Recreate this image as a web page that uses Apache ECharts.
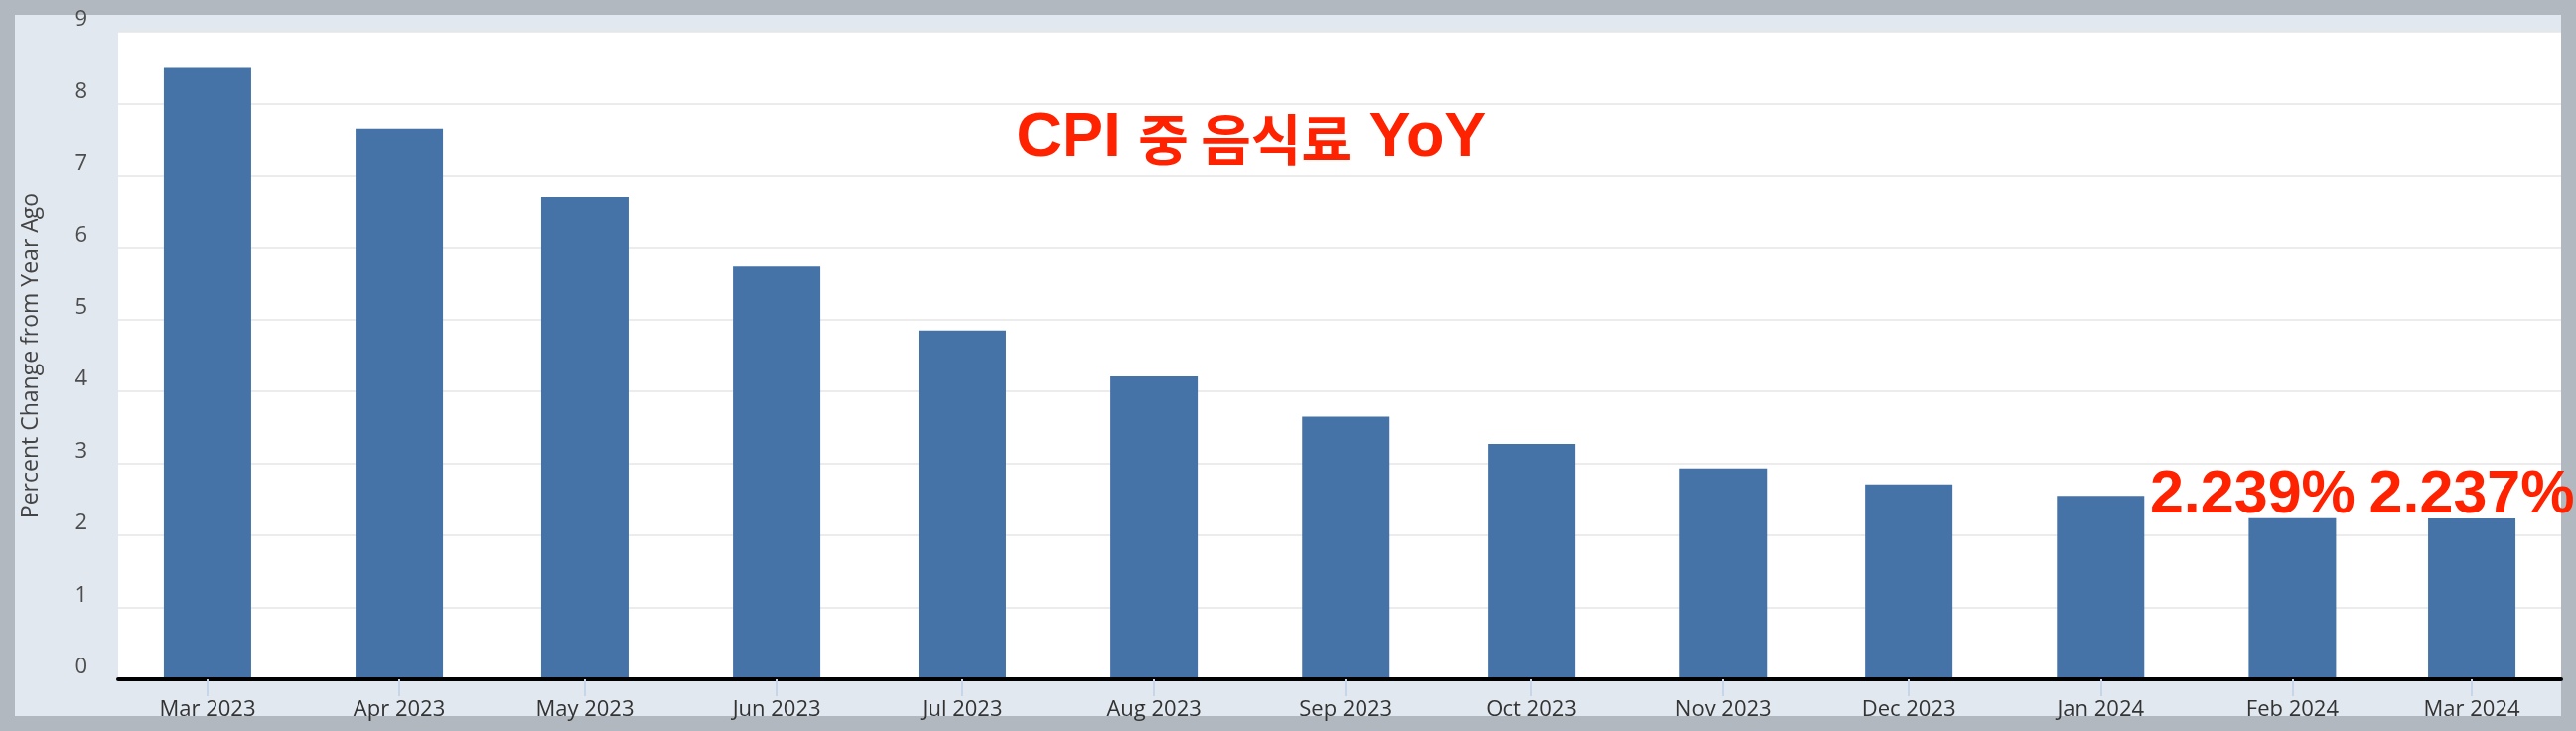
<!DOCTYPE html>
<html>
<head>
<meta charset="utf-8">
<script src="https://cdn.jsdelivr.net/npm/echarts@6/dist/echarts.min.js"></script>
<style>
  html, body { margin: 0; padding: 0; background: #b1b8bf; width: 2594px; height: 736px; overflow: hidden; }
  #panel { position: absolute; left: 15px; top: 15px; width: 2564px; height: 706px; background: #e1e8f0; }
  #c { position: absolute; left: 0; top: 0; width: 2594px; height: 736px; }
</style>
</head>
<body>
<div id="panel"></div>
<div id="c"></div>
<script>
// ---- data ----
const months = ['2023-03-01','2023-04-01','2023-05-01','2023-06-01','2023-07-01','2023-08-01','2023-09-01',
                '2023-10-01','2023-11-01','2023-12-01','2024-01-01','2024-02-01','2024-03-01'];
const foodCpiYoY = [8.51, 7.65, 6.71, 5.74, 4.85, 4.21, 3.65, 3.27, 2.93, 2.71, 2.55, 2.239, 2.237];
const annotationLabels = ['', '', '', '', '', '', '', '', '', '', '', '2.239%', '2.237%'];
const monthAbbr = ['Jan','Feb','Mar','Apr','May','Jun','Jul','Aug','Sep','Oct','Nov','Dec'];
const chartTitleParts = ['CPI ', '중 음식료', ' YoY'];
const yAxisTitle = 'Percent Change from Year Ago';
const yMin = 0, yMax = 9, yStep = 1;
// ECharts widens a time axis holding bars by half a bar on each side; these bounds account for that
const xMin = '2023-02-21 15:00:00', xMax = '2024-03-08 09:00:00';

const chart = echarts.init(document.getElementById('c'), null, { renderer: 'canvas' });

const seriesData = months.map((m, i) => {
  const item = { value: [m, foodCpiYoY[i]] };
  if (i === 11) item.label = { offset: [-40, 8] };
  if (i === 12) item.label = { offset: [0, 8] };
  return item;
});

const option = {
  backgroundColor: 'transparent',
  animation: false,
  title: {
    text: '{a|' + chartTitleParts[0] + '}{k|' + chartTitleParts[1] + '}{a|' + chartTitleParts[2] + '}',
    left: 1260,
    top: 105,
    textAlign: 'center',
    padding: 0,
    textStyle: {
      rich: {
        a: { fontFamily: 'Liberation Sans', fontWeight: 'bold', fontSize: 63, color: '#ff2200', lineHeight: 70 },
        k: { fontFamily: 'Noto Sans CJK KR', fontWeight: 'bold', fontSize: 55, color: '#ff2200', lineHeight: 70 }
      }
    }
  },
  grid: {
    left: 119, top: 32, right: 15, bottom: 52,
    show: true, backgroundColor: '#ffffff', borderWidth: 0
  },
  xAxis: {
    type: 'time',
    min: xMin, max: xMax,
    splitNumber: 13,
    z: 5,
    axisLine: { show: true, lineStyle: { color: '#000000', width: 4 } },
    axisTick: { show: true, length: 17, lineStyle: { color: '#c7d5ea', width: 2 } },
    splitLine: { show: false },
    axisLabel: {
      margin: 20,
      fontFamily: 'Open Sans', fontSize: 22, color: '#333333',
      formatter: function (v) { const d = new Date(v); return monthAbbr[d.getMonth()] + ' ' + d.getFullYear(); }
    }
  },
  yAxis: {
    type: 'value',
    min: yMin, max: yMax, interval: yStep,
    name: yAxisTitle,
    nameLocation: 'middle',
    nameGap: 76,
    nameTextStyle: { fontFamily: 'Open Sans', fontSize: 23, color: '#444444' },
    axisLine: { show: false },
    axisTick: { show: false },
    splitLine: { show: true, lineStyle: { color: '#e6e6e6', width: 1.5 } },
    axisLabel: {
      margin: 31,
      fontFamily: 'Open Sans', fontSize: 22, color: '#4d4d4d',
      verticalAlign: 'bottom', lineHeight: 24
    }
  },
  series: [{
    type: 'bar',
    data: seriesData,
    barWidth: 88,
    itemStyle: { color: '#4572a7' },
    label: {
      show: true,
      position: 'top',
      distance: 0,
      formatter: p => annotationLabels[p.dataIndex],
      fontFamily: 'Liberation Sans', fontWeight: 'bold', fontSize: 61, color: '#ff2200'
    }
  }]
};
chart.setOption(option);
</script>
</body>
</html>
